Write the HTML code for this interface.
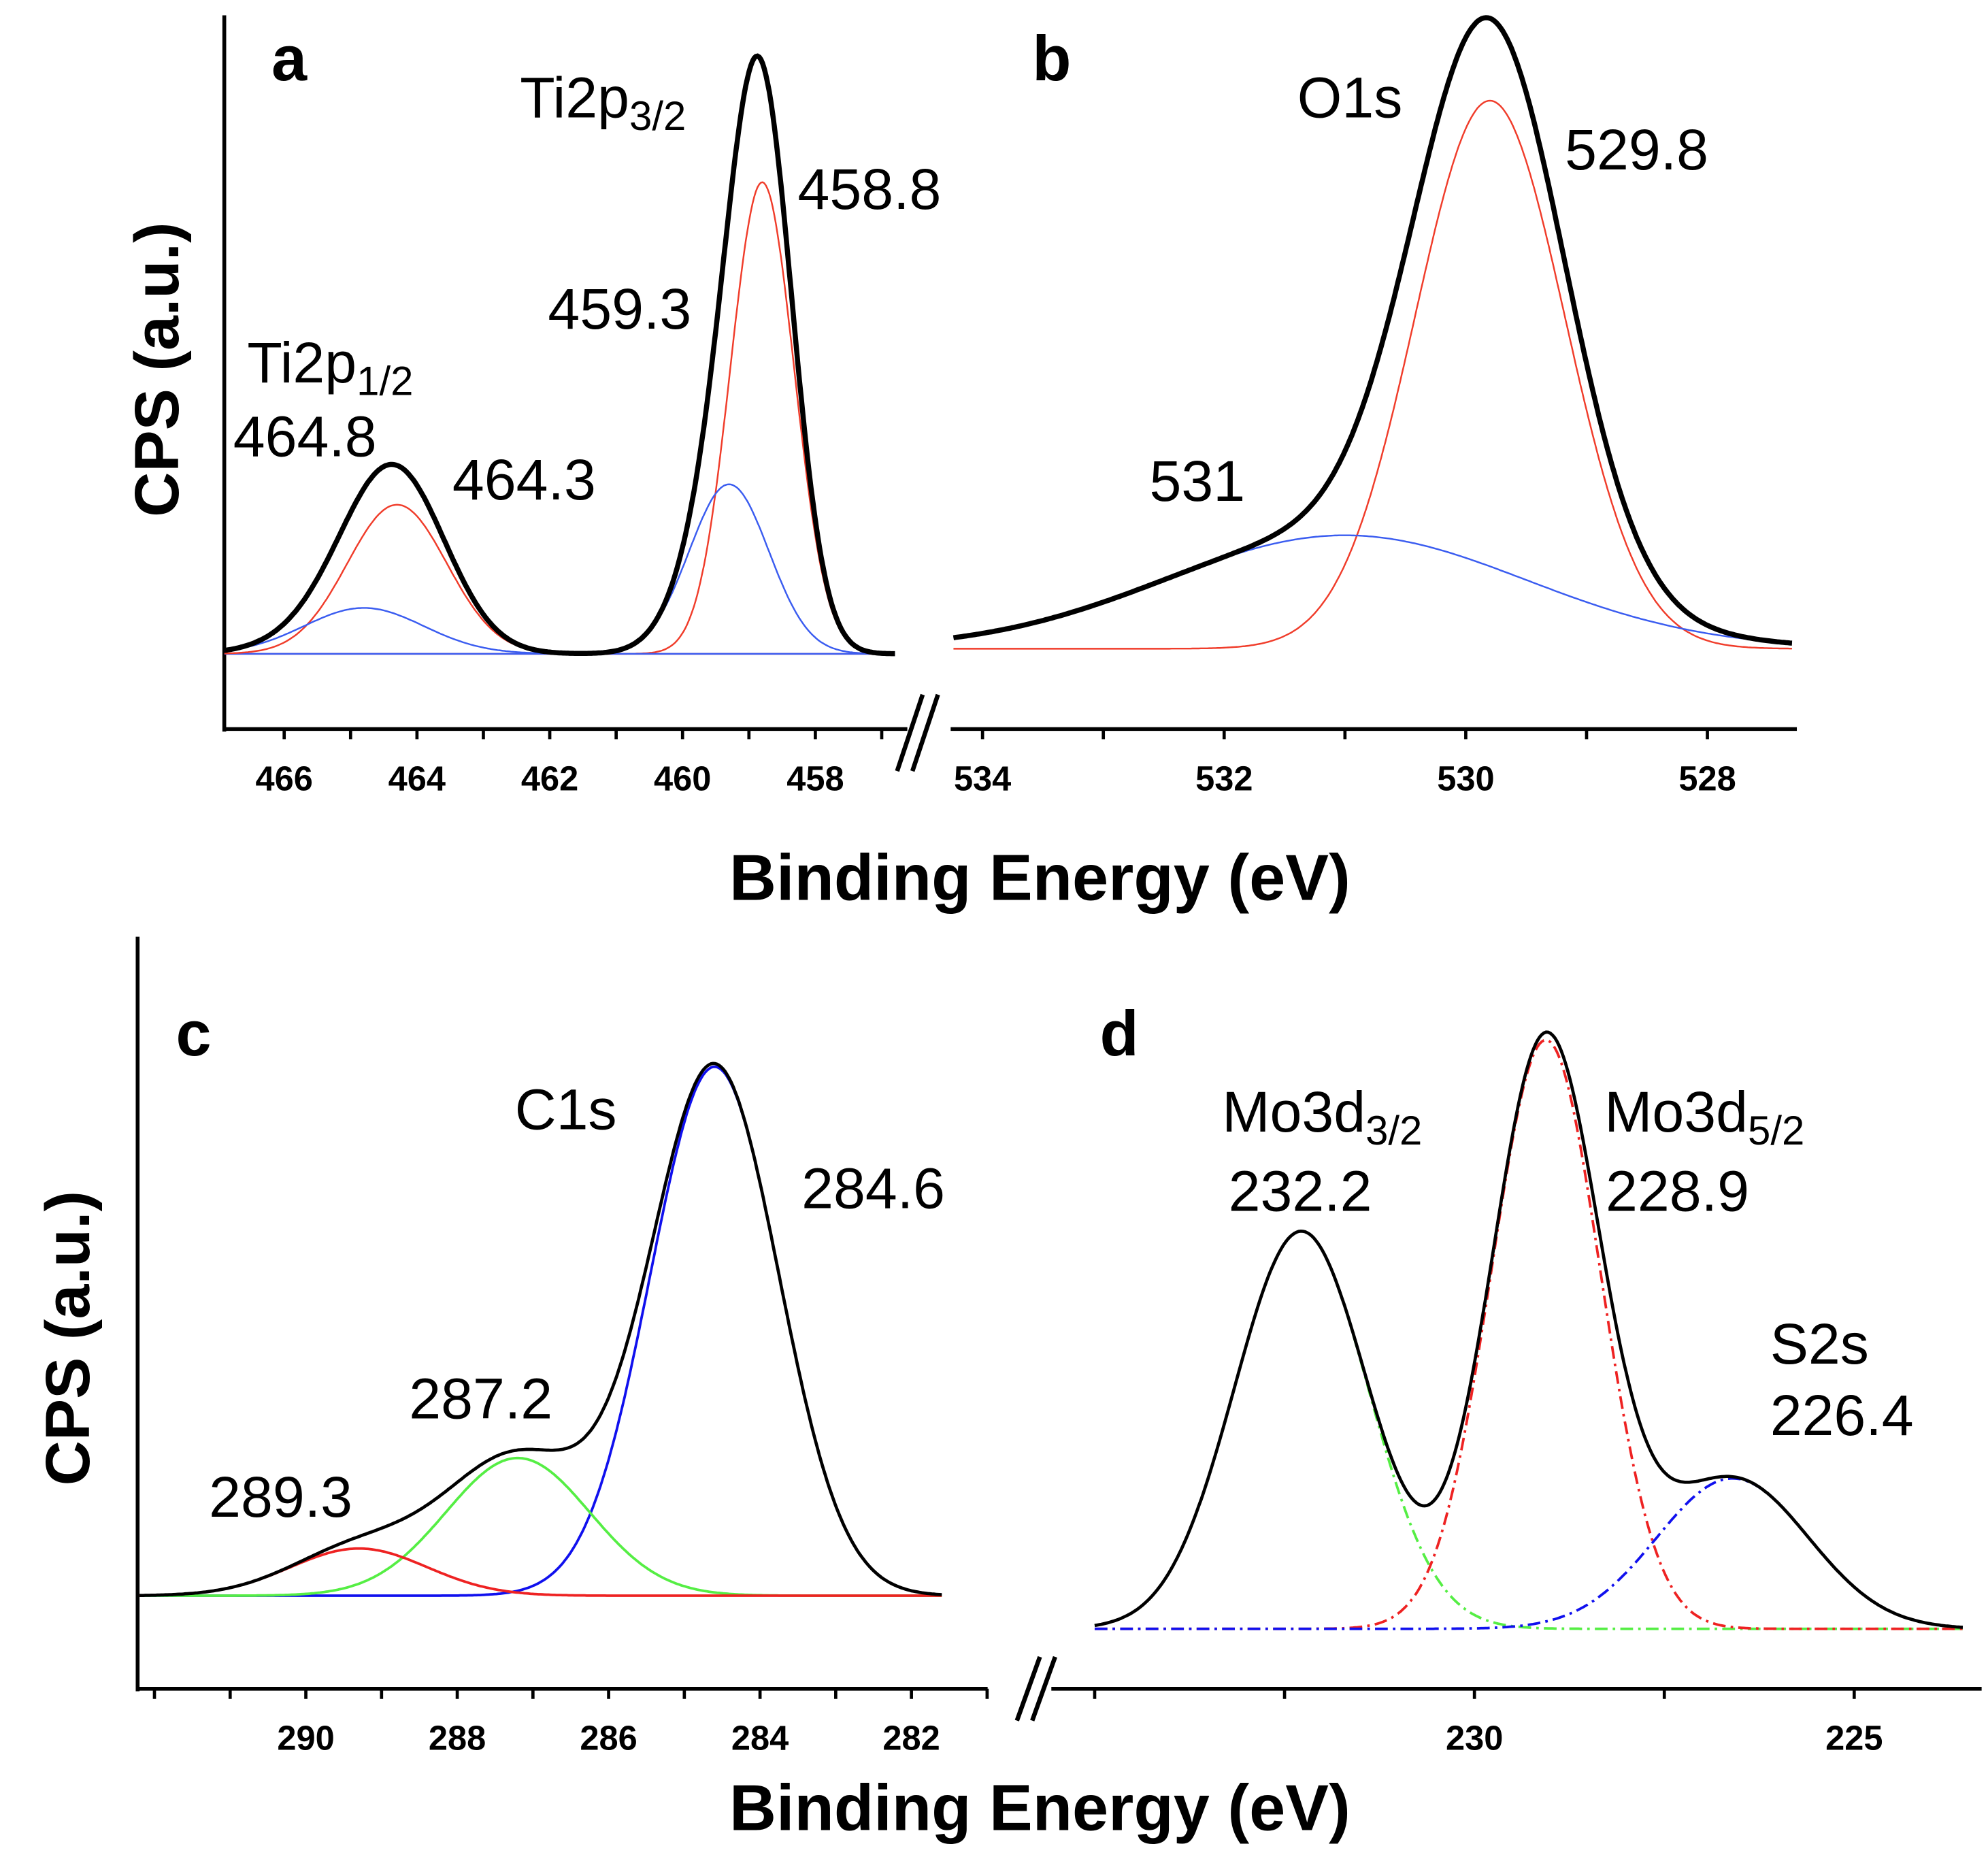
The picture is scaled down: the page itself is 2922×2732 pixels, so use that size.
<!DOCTYPE html>
<html><head><meta charset="utf-8"><style>
html,body{margin:0;padding:0;background:#fff;}
svg{display:block;}
text{font-family:"Liberation Sans","DejaVu Sans",sans-serif;}
</style></head><body>
<svg id="fig" width="2922" height="2732" viewBox="0 0 1560 1458.6" preserveAspectRatio="none" xmlns="http://www.w3.org/2000/svg">
<g id="static">
<text x="213" y="63" font-size="50" font-weight="bold">a</text>
<text x="810" y="63" font-size="50" font-weight="bold">b</text>
<text x="138" y="828" font-size="50" font-weight="bold">c</text>
<text x="863" y="828" font-size="50" font-weight="bold">d</text>
<text x="408" y="92" font-size="45">Ti2p<tspan font-size="32" dy="10">3/2</tspan></text>
<text x="626" y="164" font-size="45">458.8</text>
<text x="430" y="258" font-size="45">459.3</text>
<text x="194" y="300" font-size="45">Ti2p<tspan font-size="32" dy="10">1/2</tspan></text>
<text x="183" y="358" font-size="45">464.8</text>
<text x="355" y="392" font-size="45">464.3</text>
<text x="1018" y="92" font-size="45">O1s</text>
<text x="1228" y="133" font-size="45">529.8</text>
<text x="902" y="393" font-size="45">531</text>
<text x="404" y="886" font-size="45">C1s</text>
<text x="629" y="948" font-size="45">284.6</text>
<text x="321" y="1113" font-size="45">287.2</text>
<text x="164" y="1190" font-size="45">289.3</text>
<text x="959" y="888" font-size="45">Mo3d<tspan font-size="32" dy="10">3/2</tspan></text>
<text x="964" y="950" font-size="45">232.2</text>
<text x="1259" y="888" font-size="45">Mo3d<tspan font-size="32" dy="10">5/2</tspan></text>
<text x="1260" y="950" font-size="45">228.9</text>
<text x="1389" y="1070" font-size="45">S2s</text>
<text x="1389" y="1126" font-size="45">226.4</text>
<text x="816" y="706" font-size="51" font-weight="bold" text-anchor="middle">Binding Energy (eV)</text>
<text x="816" y="1436" font-size="51" font-weight="bold" text-anchor="middle">Binding Energy (eV)</text>
<text transform="translate(140,290) rotate(-90)" font-size="49" font-weight="bold" text-anchor="middle">CPS (a.u.)</text>
<text transform="translate(70,1050) rotate(-90)" font-size="49" font-weight="bold" text-anchor="middle">CPS (a.u.)</text>
<line x1="176" y1="12" x2="176" y2="574" stroke="#000" stroke-width="3"/>
<line x1="175" y1="572" x2="1410" y2="572" stroke="#000" stroke-width="3"/>
<line x1="108" y1="735" x2="108" y2="1327" stroke="#000" stroke-width="3"/>
<line x1="107" y1="1325" x2="775" y2="1325" stroke="#000" stroke-width="3"/>
<line x1="825" y1="1325" x2="1555" y2="1325" stroke="#000" stroke-width="3"/>
<rect x="712" y="565" width="34" height="14" fill="#fff"/>
<g stroke="#000" stroke-width="3.5"><line x1="704" y1="605" x2="724" y2="545"/><line x1="716" y1="605" x2="736" y2="545"/></g>
<g stroke="#000" stroke-width="3.5"><line x1="798" y1="1350" x2="816" y2="1300"/><line x1="810" y1="1350" x2="828" y2="1300"/></g>
</g>
<g id="plots"></g>
</svg>
<script>
// Panel a (Ti2p)
const aCenters=[458.8,459.3,464.3,464.8];
const aHeights=[370,133,117,36];
const aSigmas=[0.48,0.6,0.75,0.9];
const aColors=["#f03c2a","#3a5cf0","#f03c2a","#3a5cf0"];
const aTicks=[466,464,462,460,458];
// Panel b (O1s)
const bCenters=[529.8,531.0];
const bHeights=[430,89];
const bSigmas=[0.62,1.5];
const bColors=["#f03c2a","#3a5cf0"];
const bTicks=[534,532,530,528];
// Panel c (C1s)
const cCenters=[284.6,287.2,289.3];
const cHeights=[415,108,37];
const cSigmas=[0.85,0.95,0.9];
const cColors=["#1010ee","#55ee44","#ee2222"];
const cTicks=[290,288,286,284,282];
// Panel d (Mo3d, S2s)
const dCenters=[232.28,229.06,226.6];
const dHeights=[312,462,118];
const dSigmas=[0.88,0.72,1.0];
const dColors=["#55ee44","#ee2222","#1010ee"];
const dTicks=[230,225];

const NS="http://www.w3.org/2000/svg";
const plots=document.getElementById('plots');
function mk(tag,attrs){const e=document.createElementNS(NS,tag);for(const k in attrs)e.setAttribute(k,attrs[k]);plots.appendChild(e);return e;}
function g(x,c,h,s){return h*Math.exp(-((x-c)**2)/(2*s*s));}
function panel(p){
  const sx=v=>p.x0+(p.e0-v)*p.k;
  const sy=v=>p.base-v;
  const n=400;
  const en=j=>p.es-(p.es-p.e1)*j/n;
  p.centers.forEach((c,i)=>{
    let d="";
    for(let j=0;j<=n;j++){const e=en(j);d+=(j?"L":"M")+sx(e).toFixed(1)+","+sy(g(e,c,p.heights[i],p.sigmas[i])).toFixed(1);}
    const el=mk('path',{d:d,fill:"none",stroke:p.colors[i],"stroke-width":p.cw,"stroke-dasharray":p.dash||"none"});
    
    
  });
  let d="";
  for(let j=0;j<=n;j++){const e=en(j);let v=0;p.centers.forEach((c,i)=>v+=g(e,c,p.heights[i],p.sigmas[i]));d+=(j?"L":"M")+sx(e).toFixed(1)+","+sy(v).toFixed(1);}
  const el=mk('path',{d:d,fill:"none",stroke:"#000","stroke-width":p.bw});
  
  
  for(let t=p.t0;t>=p.t1;t-=p.minor){
    const x=sx(t);if(x<p.ax0||x>p.ax1)continue;
    const tk=mk('line',{x1:x,y1:p.axY,x2:x,y2:p.axY+8,stroke:"#000","stroke-width":2.5});
    
    
  }
  p.ticks.forEach(t=>{
    const tx=mk('text',{x:sx(t),y:p.axY+48,"font-size":27,"font-weight":"bold","text-anchor":"middle"});
    tx.textContent=t;
    
    
  });
}
panel({name:"panel-a",centers:aCenters,heights:aHeights,sigmas:aSigmas,colors:aColors,ticks:aTicks,x0:223,e0:466,es:466.9,k:52.1,e1:456.8,base:513,cw:1.3,bw:4,axY:572,t0:467,t1:456,minor:1,ax0:177,ax1:700});
panel({name:"panel-b",centers:bCenters,heights:bHeights,sigmas:bSigmas,colors:bColors,ticks:bTicks,x0:771,e0:534,es:534.24,k:94.8,e1:527.3,base:509,cw:1.3,bw:4,axY:572,t0:534,t1:527,minor:1,ax0:740,ax1:1410});
panel({name:"panel-c",centers:cCenters,heights:cHeights,sigmas:cSigmas,colors:cColors,ticks:cTicks,x0:240,e0:290,es:292.2,k:59.4,e1:281.6,base:1252,cw:2,bw:2.5,axY:1325,t0:292,t1:281,minor:1,ax0:109,ax1:775});
panel({name:"panel-d",centers:dCenters,heights:dHeights,sigmas:dSigmas,colors:dColors,ticks:dTicks,x0:1157,e0:230,es:235.0,k:59.6,e1:223.57,base:1278,cw:2,bw:2.5,dash:"10,4,2,4",axY:1325,t0:235,t1:222.5,minor:2.5,ax0:830,ax1:1555});
</script>
</body></html>
